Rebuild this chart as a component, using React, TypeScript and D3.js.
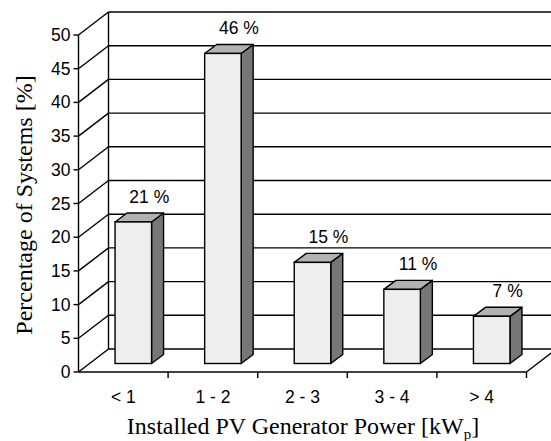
import React from "react";
import * as d3 from "d3";

const categories = ["< 1", "1 - 2", "2 - 3", "3 - 4", "> 4"];
const values = [21, 46, 15, 11, 7];
const valueLabels = ["21 %", "46 %", "15 %", "11 %", "7 %"];
const yTicks = [0, 5, 10, 15, 20, 25, 30, 35, 40, 45, 50];

const W = 551;
const H = 441;
const X0 = 78.5;
const X1 = 526.5;
const Y0 = 372;
const Y50 = 35;
const DX = 30;
const DY = -23;
const OX = 11;
const OY = -8.5;
const BDX = 12;
const BDY = -9;
const BAR_W = 36.5;
const SANS = "Liberation Sans";
const SERIF = "Liberation Serif";

export default function App() {
  const x = d3.scaleBand<string>().domain(categories).range([X0, X1]).padding(0);
  const y = d3.scaleLinear().domain([0, 50]).range([Y0, Y50]);
  const bw = x.bandwidth();
  const stroke = "#000";
  const sw = 1.4;

  const bars = categories.map((c, i) => {
    const fx = (x(c) as number) + (bw - BAR_W) / 2 - 1 + OX;
    const fb = y(0) + OY;
    const fy = y(values[i]) + OY;
    return { c, i, fx, fb, fy };
  });

  return (
    <svg width={W} height={H} style={{ position: "absolute", left: 0, top: 0, background: "#fff" }}>
      <rect width={W} height={H} fill="#fff" />
      <line x1={X0 + DX} y1={y(0) + DY} x2={X0 + DX} y2={y(50) + DY} stroke={stroke} strokeWidth={sw} />
      {yTicks.map((t) => (
        <g key={t}>
          <line x1={X0} y1={y(t)} x2={X0 + DX} y2={y(t) + DY} stroke={stroke} strokeWidth={sw} />
          <line x1={X0 + DX} y1={y(t) + DY} x2={X1 + DX} y2={y(t) + DY} stroke={stroke} strokeWidth={sw} />
        </g>
      ))}
      <line x1={X0} y1={Y0} x2={X1} y2={Y0} stroke={stroke} strokeWidth={sw} />
      <line x1={X1} y1={Y0} x2={X1 + DX} y2={Y0 + DY} stroke={stroke} strokeWidth={sw} />
      <line x1={X0} y1={Y0} x2={X0} y2={Y50} stroke={stroke} strokeWidth={sw} />
      {yTicks.map((t) => (
        <g key={"yt" + t}>
          <line x1={X0 - 5} y1={y(t)} x2={X0} y2={y(t)} stroke={stroke} strokeWidth={sw} />
          <text x={X0 - 8} y={y(t) + 6} textAnchor="end" fontFamily={SANS} fontSize={17.5} fill="#000">
            {t}
          </text>
        </g>
      ))}
      {categories.map((c) => (
        <line
          key={"xt" + c}
          x1={(x(c) as number) + bw}
          y1={Y0}
          x2={(x(c) as number) + bw}
          y2={Y0 + 6}
          stroke={stroke}
          strokeWidth={sw}
        />
      ))}
      {categories.map((c) => (
        <text
          key={"xl" + c}
          x={(x(c) as number) + bw / 2}
          y={403}
          textAnchor="middle"
          fontFamily={SANS}
          fontSize={17.5}
          fill="#000"
          style={{ whiteSpace: "pre" }}
        >
          {c}
        </text>
      ))}
      {bars.map(({ c, i, fx, fb, fy }) => (
        <g key={"bar" + c}>
          <polygon
            points={`${fx + BAR_W},${fy} ${fx + BAR_W + BDX},${fy + BDY} ${fx + BAR_W + BDX},${fb + BDY} ${fx + BAR_W},${fb}`}
            fill="#777777"
            stroke={stroke}
            strokeWidth={sw}
            strokeLinejoin="round"
          />
          <polygon
            points={`${fx},${fy} ${fx + BDX},${fy + BDY} ${fx + BAR_W + BDX},${fy + BDY} ${fx + BAR_W},${fy}`}
            fill="#b2b2b2"
            stroke={stroke}
            strokeWidth={sw}
            strokeLinejoin="round"
          />
          <rect x={fx} y={fy} width={BAR_W} height={fb - fy} fill="#eeeeee" stroke={stroke} strokeWidth={sw} />
          <text
            x={fx + BAR_W / 2 + 16}
            y={fy + BDY - 10}
            textAnchor="middle"
            fontFamily={SANS}
            fontSize={17.5}
            fill="#000"
          >
            {valueLabels[i]}
          </text>
        </g>
      ))}
      <text
        transform={`translate(32,205) rotate(-90)`}
        textAnchor="middle"
        fontFamily={SERIF}
        fontSize={24}
        fill="#000"
      >
        Percentage of Systems [%]
      </text>
      <text x={303} y={434} textAnchor="middle" fontFamily={SERIF} fontSize={24} fill="#000">
        <tspan>Installed PV Generator Power [kW</tspan>
        <tspan dy={5} fontSize={15}>p</tspan>
        <tspan dy={-5}>]</tspan>
      </text>
    </svg>
  );
}
